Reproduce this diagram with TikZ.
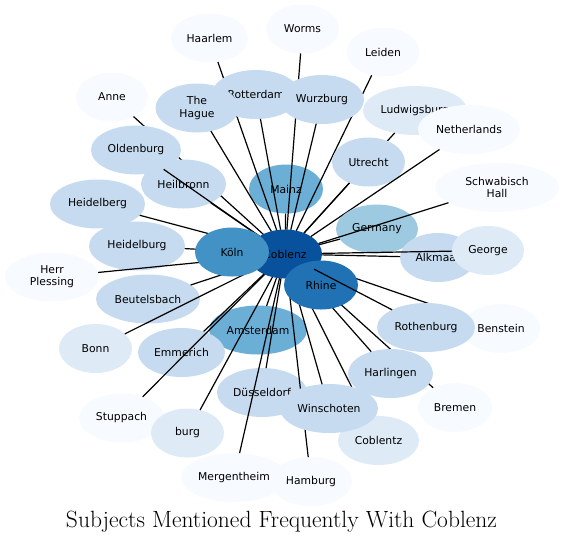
\documentclass[tikz,border=0pt]{standalone}
\usepackage{fontspec}
\newfontfamily\dvs{DejaVu Sans}
\usetikzlibrary{shapes.geometric}
\definecolor{b1}{HTML}{F7FBFF}
\definecolor{b2}{HTML}{DEEBF7}
\definecolor{b3}{HTML}{C6DBEF}
\definecolor{b4}{HTML}{9ECAE1}
\definecolor{b5}{HTML}{6BAED6}
\definecolor{b6}{HTML}{4292C6}
\definecolor{b7}{HTML}{2171B5}
\definecolor{b8}{HTML}{08519C}
\tikzset{
  nd/.style={ellipse, inner sep=0pt, outer sep=0pt, minimum height=49pt,
    font=\dvs\fontsize{10.8}{12.3}\selectfont, align=center, text=black},
  edg/.style={draw=black, line width=1.2pt}
}
\begin{document}
\begin{tikzpicture}[x=1pt,y=-1pt]
\useasboundingbox (0,0) rectangle (564,542);
\node[nd, fill=b8, minimum width=74] (cob) at (285,254) {Coblenz};
\node[nd, fill=b5, minimum width=74] (mainz) at (286,189) {Mainz};
\draw[edg] (cob) -- (mainz);
\node[nd, fill=b1, minimum width=77] (haarlem) at (209.5,38) {Haarlem};
\draw[edg] (cob) -- (haarlem);
\node[nd, fill=b1, minimum width=73] (worms) at (302.5,29) {Worms};
\draw[edg] (cob) -- (worms);
\node[nd, fill=b1, minimum width=73] (leiden) at (383,52) {Leiden};
\draw[edg] (cob) -- (leiden);
\node[nd, fill=b3, minimum width=88] (rotterdam) at (256,94.5) {Rotterdam};
\draw[edg] (cob) -- (rotterdam);
\node[nd, fill=b3, minimum width=83] (hague) at (197,108) {The\\Hague};
\draw[edg] (cob) -- (hague);
\node[nd, fill=b3, minimum width=84] (wurzburg) at (322,99.5) {Wurzburg};
\draw[edg] (cob) -- (wurzburg);
\node[nd, fill=b1, minimum width=72] (anne) at (112,97) {Anne};
\draw[edg] (cob) -- (anne);
\node[nd, fill=b3, minimum width=85] (heilbronn) at (183.5,184) {Heilbronn};
\draw[edg] (cob) -- (heilbronn);
\node[nd, fill=b3, minimum width=90] (oldenburg) at (136,150) {Oldenburg};
\draw[edg] (cob) -- (oldenburg);
\node[nd, fill=b3, minimum width=95] (heidelberg) at (97.5,204) {Heidelberg};
\draw[edg] (cob) -- (heidelberg);
\node[nd, fill=b3, minimum width=96] (heidelburg) at (137,246) {Heidelburg};
\draw[edg] (cob) -- (heidelburg);
\node[nd, fill=b1, minimum width=94] (herr) at (52,277) {Herr\\Plessing};
\draw[edg] (cob) -- (herr);
\node[nd, fill=b3, minimum width=104] (beutelsbach) at (148,299) {Beutelsbach};
\draw[edg] (cob) -- (beutelsbach);
\node[nd, fill=b2, minimum width=73] (bonn) at (95.5,348.5) {Bonn};
\draw[edg] (cob) -- (bonn);
\node[nd, fill=b6, minimum width=74] (koln) at (232,252) {Köln};
\node[nd, fill=b2, minimum width=104] (ludwigsburg) at (415,110.5) {Ludwigsburg};
\draw[edg] (cob) -- (ludwigsburg);
\node[nd, fill=b3, minimum width=73] (utrecht) at (368.5,162) {Utrecht};
\draw[edg] (cob) -- (utrecht);
\node[nd, fill=b1, minimum width=102] (netherlands) at (469,129.5) {Netherlands};
\draw[edg] (cob) -- (netherlands);
\node[nd, fill=b4, minimum width=82] (germany) at (377,229) {Germany};
\draw[edg] (cob) -- (germany);
\node[nd, fill=b1, minimum width=124] (schwabisch) at (497,187.5) {Schwabisch\\Hall};
\draw[edg] (cob) -- (schwabisch);
\node[nd, fill=b3, minimum width=76] (alkmaar) at (438,257.5) {Alkmaar};
\draw[edg] (cob) -- (alkmaar);
\node[nd, fill=b2, minimum width=72] (george) at (488,250.5) {George};
\draw[edg] (cob) -- (george);
\node[nd, fill=b5, minimum width=98] (amsterdam) at (258,330) {Amsterdam};
\draw[edg] (cob) -- (amsterdam);
\node[nd, fill=b3, minimum width=87] (emmerich) at (181.5,352.5) {Emmerich};
\draw[edg] (cob) -- (emmerich);
\node[nd, fill=b1, minimum width=85] (stuppach) at (121.5,418) {Stuppach};
\draw[edg] (cob) -- (stuppach);
\node[nd, fill=b2, minimum width=73] (burg) at (187.5,433) {burg};
\draw[edg] (cob) -- (burg);
\node[nd, fill=b3, minimum width=90] (dusseldorf) at (262,392.5) {Düsseldorf};
\draw[edg] (cob) -- (dusseldorf);
\node[nd, fill=b1, minimum width=78] (benstein) at (501,328.5) {Benstein};
\draw[edg] (cob) -- (benstein);
\node[nd, fill=b1, minimum width=74] (bremen) at (455,407.5) {Bremen};
\draw[edg] (cob) -- (bremen);
\node[nd, fill=b3, minimum width=85] (harlingen) at (390.5,373.5) {Harlingen};
\draw[edg] (cob) -- (harlingen);
\node[nd, fill=b2, minimum width=81] (coblentz) at (378.5,440.5) {Coblentz};
\draw[edg] (cob) -- (coblentz);
\node[nd, fill=b1, minimum width=82] (hamburg) at (311,481.5) {Hamburg};
\draw[edg] (cob) -- (hamburg);
\node[nd, fill=b1, minimum width=106] (mergentheim) at (234,477.5) {Mergentheim};
\draw[edg] (cob) -- (mergentheim);
\node[nd, fill=b3, minimum width=98] (winschoten) at (329,408.5) {Winschoten};
\draw[edg] (cob) -- (winschoten);
\node[nd, fill=b7, minimum width=74] (rhine) at (321,285) {Rhine};
\node[nd, fill=b3, minimum width=98] (rothenburg) at (426,327.5) {Rothenburg};
\draw[edg] (cob) -- (rothenburg);
\node[font=\fontsize{23.5}{28}\selectfont, anchor=base] (title) at (281.5,527) {Subjects Mentioned Frequently With Coblenz};
\end{tikzpicture}
\end{document}
